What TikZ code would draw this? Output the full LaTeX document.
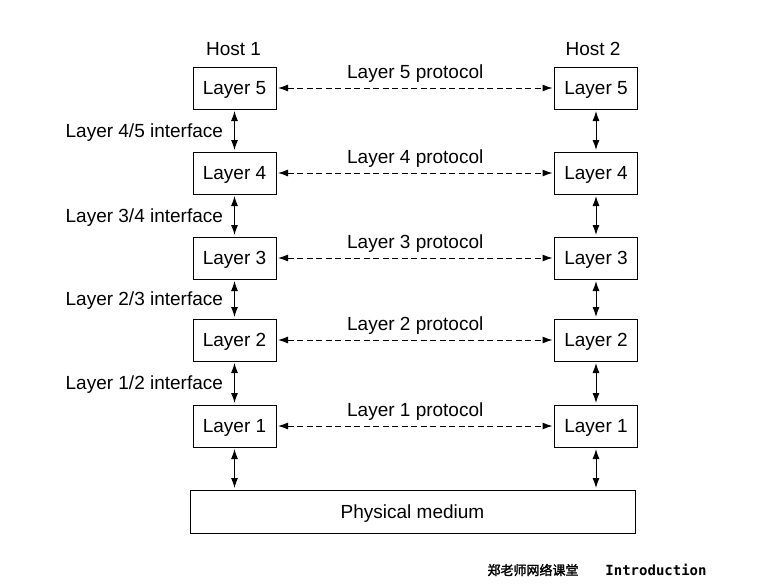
\documentclass[tikz,border=0pt]{standalone}
\usepackage{fontspec}
\setmainfont{Liberation Sans}
\newfontfamily\cjk[AutoFakeBold=2]{Noto Sans CJK SC}
\newfontfamily\wmfont{DejaVu Sans Mono}
\usetikzlibrary{arrows.meta,positioning}

\tikzset{
  layerbox/.style = {draw, line width=1pt, minimum width=83pt,
                     minimum height=42pt, inner sep=0pt, text depth=0pt},
  bothtip/.style  = {line width=1pt, shorten <=1.5pt, shorten >=1.5pt,
                     {Latex[length=10pt,width=7pt]}-{Latex[length=10pt,width=7pt]}},
  peerarrow/.style = {bothtip, dash pattern=on 6pt off 3.5pt},
  iflabel/.style = {midway, left=11pt, inner sep=0pt, yshift=-2pt}
}

\begin{document}
\begin{tikzpicture}[
        x = 1pt,
        y = -1pt,
        font = \fontsize{19}{22}\selectfont
        ]
        \useasboundingbox (0, 0) rectangle (778, 584);
        % the two stacks of layers
        \foreach \i/\y in {5/88, 4/173, 3/258, 2/340, 1/426} {
            \node[layerbox] (l\i) at (234.5, \y) {Layer \i};
            \node[layerbox] (r\i) at (596, \y) {Layer \i};
            \draw[peerarrow] (l\i) -- (r\i)
                node[midway, above, inner sep=5pt] {Layer \i\ protocol};
        }
        \node[above=11pt of l5, xshift=-1pt, inner sep=0pt] (host1) {Host 1};
        \node[above=11pt of r5, xshift=-3pt, inner sep=0pt] (host2) {Host 2};
        % interfaces between layers
        \draw[bothtip] (l5) -- (l4) node[iflabel] {Layer 4/5 interface};
        \draw[bothtip] (l4) -- (l3) node[iflabel] {Layer 3/4 interface};
        \draw[bothtip] (l3) -- (l2) node[iflabel] {Layer 2/3 interface};
        \draw[bothtip] (l2) -- (l1) node[iflabel] {Layer 1/2 interface};
        \draw[bothtip] (r5) -- (r4);
        \draw[bothtip] (r4) -- (r3);
        \draw[bothtip] (r3) -- (r2);
        \draw[bothtip] (r2) -- (r1);
        % physical medium
        \node[layerbox, minimum width=445pt, minimum height=43pt] (pm) at (412.5, 511.5) {Physical medium};
        \draw[bothtip] (l1) -- (l1 |- pm.north);
        \draw[bothtip] (r1) -- (r1 |- pm.north);
        % caption
        \node[font=\cjk\bfseries\fontsize{13}{15}\selectfont] (wmcn) at (533, 570) {郑老师网络课堂};
        \node[font=\wmfont\bfseries\fontsize{14}{16}\selectfont] (wmen) at (656, 570) {Introduction};
    \end{tikzpicture}
\end{document}
